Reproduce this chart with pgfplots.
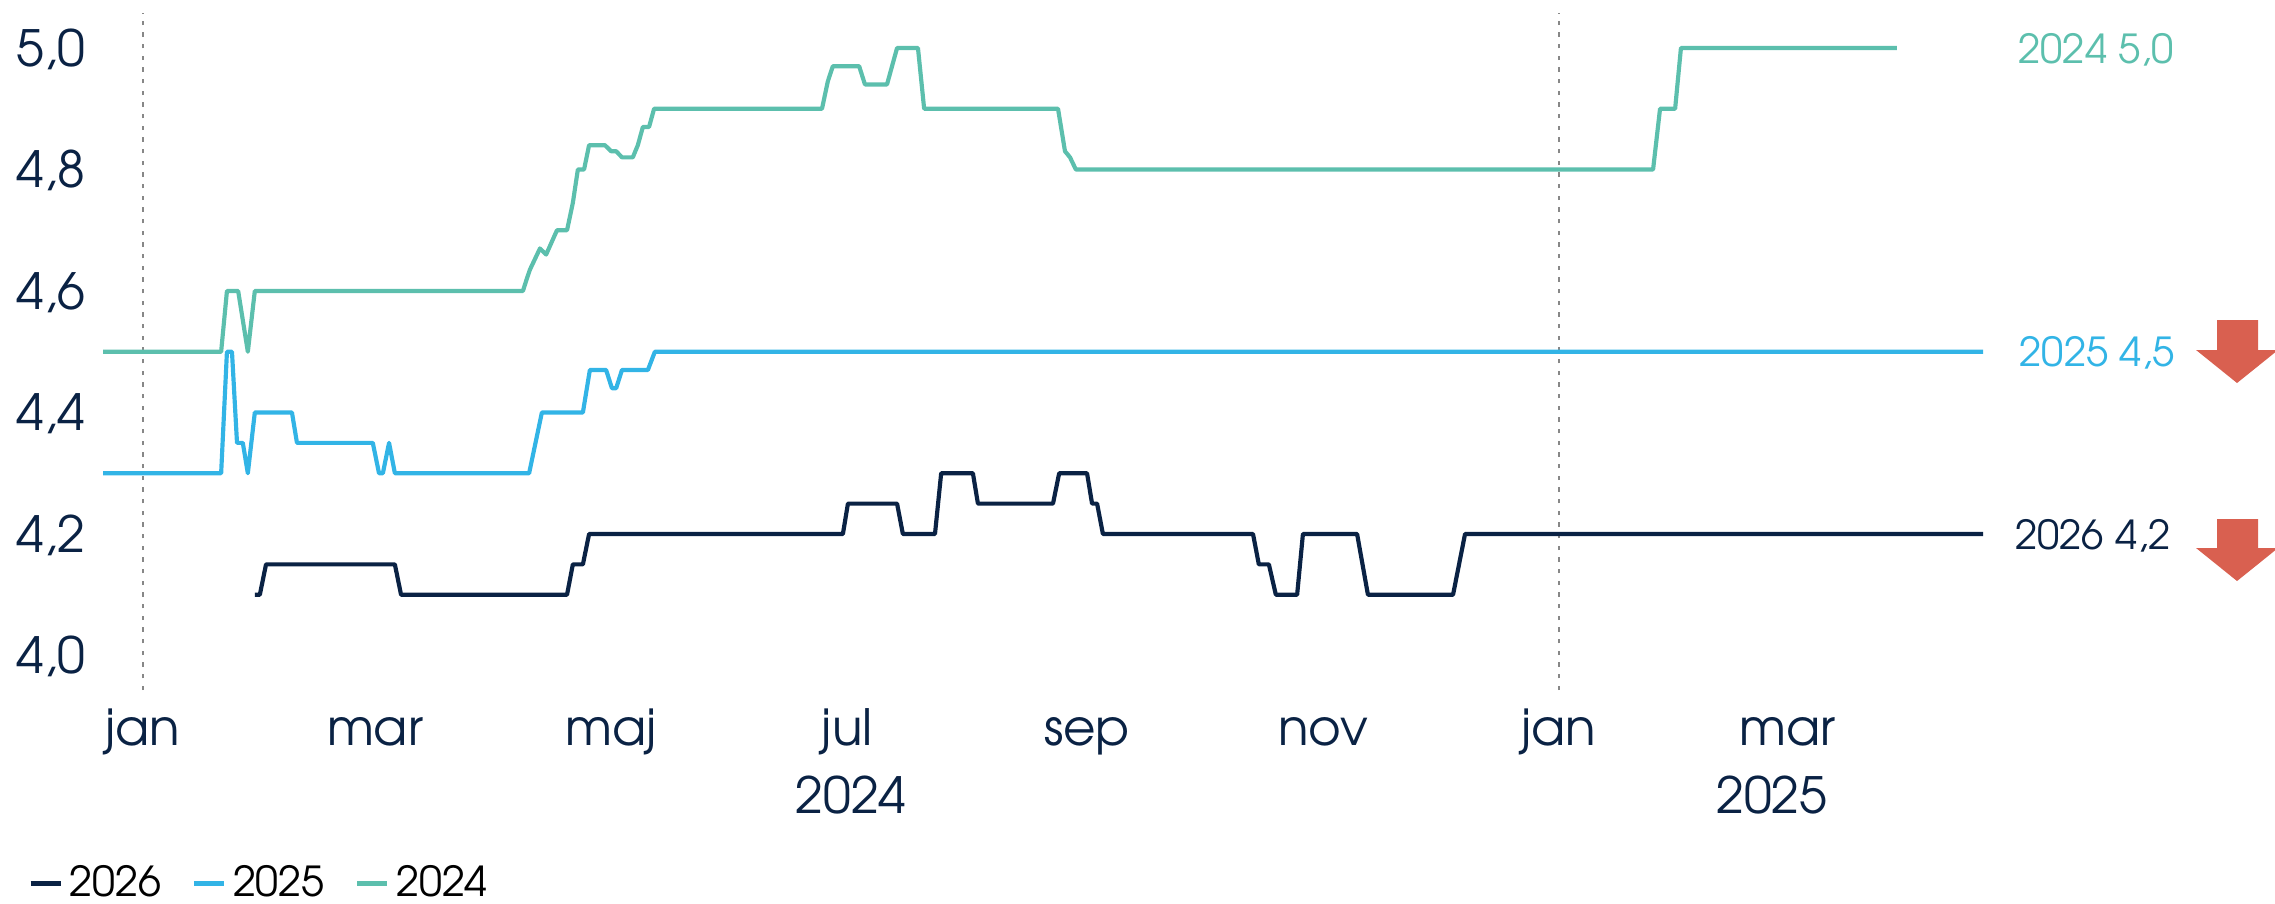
\documentclass[border=0pt]{standalone}
\usepackage{pgfplots}
\pgfplotsset{compat=1.18}
\usepackage{fontspec}
\setmainfont{TeX Gyre Adventor}

\definecolor{c26}{RGB}{10,34,68}
\definecolor{c25}{RGB}{50,180,230}
\definecolor{c24}{RGB}{92,191,173}
\definecolor{dashgray}{RGB}{135,135,135}
\definecolor{arrowred}{RGB}{217,96,80}

% x = days from 1 jan 2024, y = forecast
\pgfplotstableread{
d v
-10.3 4.50
20.2 4.50
21.7 4.60
24.6 4.60
27.1 4.50
28.9 4.60
98.2 4.60
99.2 4.62
100.0 4.635
102.6 4.67
104.2 4.66
107.0 4.70
109.6 4.70
111.1 4.745
112.4 4.80
114.0 4.80
115.3 4.84
119.4 4.84
121.0 4.83
122.3 4.83
123.8 4.82
126.6 4.82
127.9 4.84
129.2 4.87
130.8 4.87
132.1 4.90
175.5 4.90
177.0 4.945
178.3 4.97
185.1 4.97
186.6 4.94
192.3 4.94
194.9 5.00
200.3 5.00
201.9 4.90
236.5 4.90
238.3 4.83
239.6 4.82
241.1 4.80
390.3 4.80
392.1 4.90
396.0 4.90
397.5 5.00
453.3 5.00
}\tabA

\pgfplotstableread{
d v
-10.3 4.30
20.2 4.30
21.7 4.50
23.0 4.50
24.3 4.35
25.8 4.35
27.1 4.30
28.9 4.40
38.5 4.40
39.8 4.35
59.4 4.35
61.0 4.30
62.0 4.30
63.6 4.35
65.1 4.30
99.8 4.30
103.1 4.40
113.7 4.40
115.5 4.47
119.7 4.47
121.2 4.44
122.3 4.44
123.8 4.47
130.5 4.47
132.3 4.50
475.6 4.50
}\tabB

\pgfplotstableread{
d v
28.9 4.10
30.2 4.10
31.8 4.15
65.1 4.15
66.7 4.10
109.6 4.10
111.1 4.15
113.7 4.15
115.3 4.20
180.9 4.20
182.2 4.25
194.9 4.25
196.4 4.20
204.7 4.20
206.3 4.30
214.5 4.30
215.8 4.25
235.2 4.25
236.8 4.30
244.0 4.30
245.3 4.25
246.6 4.25
248.1 4.20
286.9 4.20
288.4 4.15
291.0 4.15
292.8 4.10
298.3 4.10
299.8 4.20
313.8 4.20
316.6 4.10
338.6 4.10
341.7 4.20
475.6 4.20
}\tabC

\begin{document}
\begin{tikzpicture}
\useasboundingbox (0,0) rectangle (682.5pt,-270.9pt);
\begin{axis}[
	at={(25.8pt,-207.03pt)}, anchor=south west,
	x=1.1607pt, y=182.25pt,
	xmin=-14.73, xmax=480, ymin=3.943, ymax=5.058,
	enlargelimits=false, clip=false,
	axis line style={draw=none},
	major tick length=0pt,
	xtick={0,60,121,182,244,305,366,425},
	xticklabels={jan,mar,maj,jul,sep,nov,jan,mar},
	xticklabel style={anchor=base, yshift=-16.5pt, text=c26, font=\fontsize{15}{18}\selectfont},
	ytick={4,4.2,4.4,4.6,4.8,5},
	yticklabels={{4,0},{4,2},{4,4},{4,6},{4,8},{5,0}},
	yticklabel style={anchor=base east, inner sep=0pt, yshift=-5.5pt, text=c26, font=\fontsize{15}{18}\selectfont},
	extra x ticks={0,366},
	extra x tick labels={,},
	extra x tick style={xmajorgrids=true, major grid style={draw=dashgray, line width=0.65pt, dash pattern=on 1.3pt off 2.2pt}},
	legend columns=-1,
	legend style={draw=none, fill=none, at={(-0.0306,-0.2848)}, anchor=west,
		font=\fontsize{12.4}{15}\selectfont, inner sep=0pt,
		/tikz/every even column/.append style={column sep=7pt}},
	legend image code/.code={\draw[#1, line width=1.5pt] (0pt,0pt) -- (9pt,0pt);},
]
\addplot[c26, line width=1.25pt, line join=round] table[x=d, y=v] {\tabC};
\addplot[c25, line width=1.25pt, line join=round] table[x=d, y=v] {\tabB};
\addplot[c24, line width=1.25pt, line join=round] table[x=d, y=v] {\tabA};
\legend{2026,2025,2024}

\node[anchor=base, text=c26, font=\fontsize{15}{18}\selectfont] at (axis cs:183,3.7407) {2024};
\node[anchor=base, text=c26, font=\fontsize{15}{18}\selectfont] at (axis cs:421,3.7407) {2025};

\node[anchor=base west, inner sep=0pt, text=c24, font=\fontsize{12}{14}\selectfont] at (axis cs:484.6,4.975) {2024 5,0};
\node[anchor=base west, inner sep=0pt, text=c25, font=\fontsize{12}{14}\selectfont] at (axis cs:484.9,4.475) {2025 4,5};
\node[anchor=base west, inner sep=0pt, text=c26, font=\fontsize{12}{14}\selectfont] at (axis cs:483.8,4.175) {2026 4,2};
\end{axis}
\begin{scope}[x=0.3pt, y=-0.3pt]
\fill[arrowred] (2217,320) -- (2258,320) -- (2258,350) -- (2278,350) -- (2237,383) -- (2196,350) -- (2217,350) -- cycle;
\fill[arrowred] (2217,519) -- (2258,519) -- (2258,548) -- (2278,548) -- (2237,581) -- (2196,548) -- (2217,548) -- cycle;
\end{scope}
\end{tikzpicture}
\end{document}
